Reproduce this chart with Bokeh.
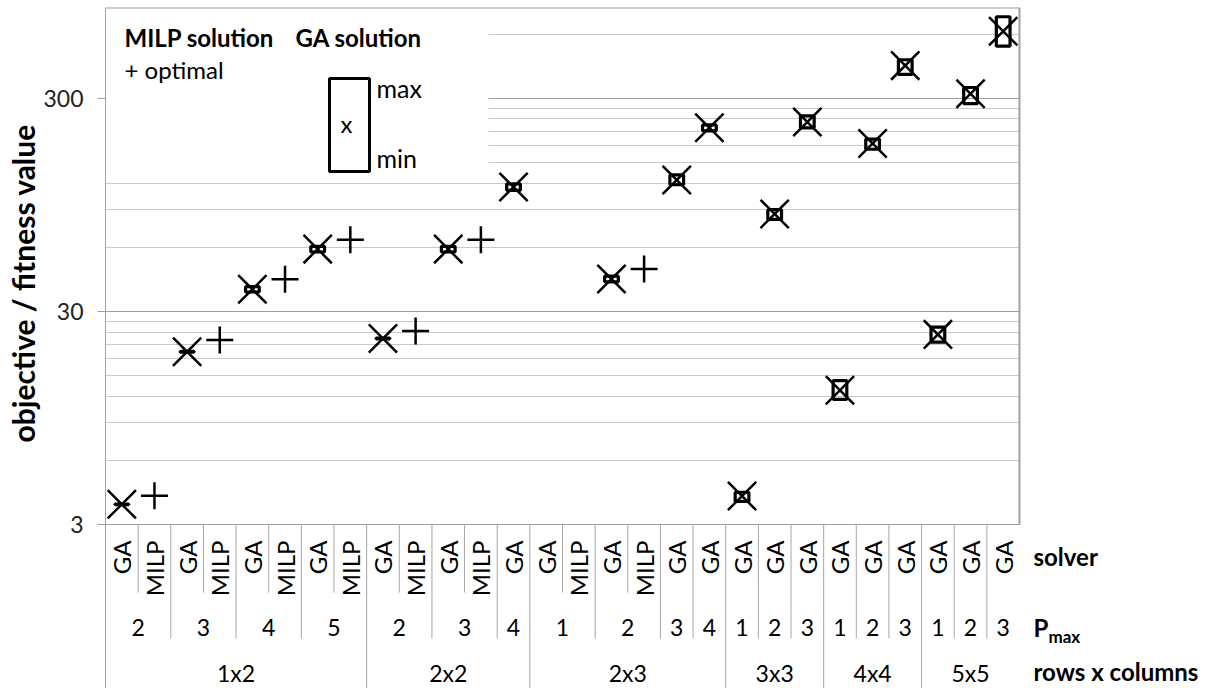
import math
from bokeh.plotting import figure
from bokeh.models import Range1d, FixedTicker, NumeralTickFormatter, ColumnDataSource, Title
from bokeh.core.properties import value
from bokeh.embed import file_html
from bokeh.resources import INLINE

# ---------------- data ----------------
rows_groups = ["1x2"] * 8 + ["2x2"] * 5 + ["2x3"] * 6 + ["3x3"] * 3 + ["4x4"] * 3 + ["5x5"] * 3
pmax = ["2", "2", "3", "3", "4", "4", "5", "5",
        "2", "2", "3", "3", "4",
        "1", "1", "2", "2", "3", "4",
        "1", "2", "3",
        "1", "2", "3",
        "1", "2", "3"]
solver = ["GA", "MILP", "GA", "MILP", "GA", "MILP", "GA", "MILP",
          "GA", "MILP", "GA", "MILP", "GA",
          "GA", "MILP", "GA", "MILP", "GA", "GA",
          "GA", "GA", "GA",
          "GA", "GA", "GA",
          "GA", "GA", "GA"]
# GA fitness (x marker) and min/max over runs (box)
ga_value = [3.73, None, 19.4, None, 38.1, None, 58.8, None,
            22.4, None, 58.8, None, 115,
            None, None, 42.6, None, 124, 218,
            4.08, 86, 232,
            12.8, 184, 427,
            23.4, 315, 619]
ga_min = [3.72, None, 19.3, None, 37.0, None, 57.0, None,
          22.3, None, 57.0, None, 111,
          None, None, 41.3, None, 118, 211,
          3.85, 81, 218,
          11.6, 173, 388,
          21.5, 283, 527]
ga_max = [3.74, None, 19.5, None, 39.2, None, 60.6, None,
          22.5, None, 60.6, None, 119,
          None, None, 43.9, None, 131, 225,
          4.25, 90, 248,
          14.2, 193, 455,
          25.3, 337, 724]
# MILP optimal objective (+ marker)
milp_opt = [None, 4.09, None, 22.0, None, 42.5, None, 65.1,
            None, 24.3, None, 65.0, None,
            None, None, None, 47.4, None, None,
            None, None, None,
            None, None, None,
            None, None, None]
y_major = [3, 30, 300]

# ---------------- layout constants ----------------
FONT = "Lato"
Y_MIN, Y_MAX = 3, 800
N = len(solver)
OX, OY = 0, 0                    # page offset of the canvas
PLOT_L, PLOT_T, PLOT_B = 105, 7, 524   # page px of the chart area
PLOT_W = 914
FRAME_R = 1205
FRAME_B = 688
GRID_MAJOR = "#a0a0a0"
GRID_MINOR = "#c8c8c8"
SEP = "#a6a6a6"

COLW = PLOT_W / N
PPD = (PLOT_B - PLOT_T) / math.log10(Y_MAX / Y_MIN)
Y_LO = Y_MIN * 10 ** (-(FRAME_B - PLOT_B) / PPD)
XMAX = (FRAME_R - PLOT_L) / COLW


def dy(py):
    """page pixel (from top) -> data value"""
    return Y_MAX * 10 ** (-(py - PLOT_T) / PPD)


def dx(px):
    """page pixel (from left) -> column units"""
    return (px - PLOT_L) / COLW


y_minor = [3 * k * 10 ** d for d in range(3) for k in range(2, 10) if 3 * k * 10 ** d <= Y_MAX]

p = figure(frame_width=FRAME_R - PLOT_L, frame_height=FRAME_B - PLOT_T,
           x_range=Range1d(0, XMAX), y_range=Range1d(Y_LO, Y_MAX),
           y_axis_type="log", x_axis_location=None,
           min_border_left=PLOT_L - OX, min_border_right=0,
           min_border_top=PLOT_T - OY, min_border_bottom=0,
           toolbar_location=None, output_backend="svg",
           background_fill_color="white", border_fill_color="white",
           outline_line_color=None)

p.yaxis.ticker = FixedTicker(ticks=y_major, minor_ticks=y_minor)
p.yaxis.formatter = NumeralTickFormatter(format="0")
p.yaxis.axis_line_color = GRID_MAJOR
p.yaxis.major_tick_line_color = GRID_MAJOR
p.yaxis.major_tick_out = 8
p.yaxis.major_tick_in = 0
p.yaxis.minor_tick_line_color = None
p.yaxis.major_label_text_font = FONT
p.yaxis.major_label_text_font_size = "23px"
p.yaxis.major_label_text_color = "#222222"
p.yaxis.major_label_standoff = 14

p.add_layout(Title(text="objective / fitness value", align="left", offset=246,
                   text_font=FONT, text_font_size="30px", text_font_style="bold",
                   text_color="black", standoff=0), "left")

p.xgrid.visible = False
p.ygrid.grid_line_color = GRID_MAJOR
p.ygrid.grid_line_width = 1.2
p.ygrid.minor_grid_line_color = GRID_MINOR
p.ygrid.minor_grid_line_width = 1.2

# hide gridlines outside the chart area (right-hand titles) and behind legend
p.quad(left=[N], right=[XMAX], top=[Y_MAX], bottom=[Y_LO], fill_color="white", line_color=None)
p.quad(left=[0], right=[dx(488)], top=[Y_MAX], bottom=[dy(174)],
       fill_color="white", line_color=None)
# chart border (top, right)
p.segment(x0=[0, N], y0=[Y_MAX, Y_MIN], x1=[N, N], y1=[Y_MAX, Y_MAX],
          line_color=GRID_MAJOR, line_width=2)

# GA min/max boxes + fitness markers
keep = [i for i in range(N) if ga_value[i] is not None]
src_ga = ColumnDataSource(dict(
    x=[i + 0.5 for i in keep],
    v=[ga_value[i] for i in keep],
    lo=[ga_min[i] for i in keep],
    hi=[ga_max[i] for i in keep],
))
p.vbar(x="x", width=0.42, top="hi", bottom="lo", source=src_ga,
       fill_color=None, line_color="black", line_width=3.2)
p.scatter(x="x", y="v", source=src_ga, marker="x", size=40,
          line_color="black", line_width=2.5)

keep_m = [i for i in range(N) if milp_opt[i] is not None]
src_milp = ColumnDataSource(dict(
    x=[i + 0.5 for i in keep_m],
    v=[milp_opt[i] for i in keep_m],
))
p.scatter(x="x", y="v", source=src_milp, marker="cross", size=27,
          line_color="black", line_width=2.5)

# legend
TXT = dict(text_font=value(FONT), text_baseline="middle", text_color="black")
p.text(x=[dx(124), dx(295)], y=[dy(37), dy(37)], text=["MILP solution", "GA solution"],
       text_font_size="24px", text_font_style="bold", text_align="left", **TXT)
p.text(x=[dx(124)], y=[dy(69)], text=["+ optimal"], text_font_size="24px",
       text_align="left", **TXT)
p.quad(left=[dx(329)], right=[dx(369)], top=[dy(78)], bottom=[dy(171)],
       fill_color="white", line_color="black", line_width=3)
p.text(x=[dx(346)], y=[dy(123)], text=["x"], text_font_size="24px", text_align="center", **TXT)
p.text(x=[dx(376), dx(376)], y=[dy(87), dy(157)], text=["max", "min"],
       text_font_size="25px", text_align="left", **TXT)

# ---------------- category table below the chart ----------------
def ty(px_below):
    return Y_MIN * 10 ** (-px_below / PPD)


FULL = FRAME_B - PLOT_B
sx, sy1 = [], []
for i in range(1, N):
    if rows_groups[i] != rows_groups[i - 1]:
        length = FULL
    elif pmax[i] != pmax[i - 1]:
        length = 114
    else:
        length = 68
    sx.append(i)
    sy1.append(ty(length))
p.segment(x0=sx, y0=[Y_MIN] * len(sx), x1=sx, y1=sy1, line_color=SEP, line_width=1)

p.text(x=[i + 0.5 for i in range(N)], y=[ty(16)] * N, text=solver, angle=math.pi / 2,
       text_font_size="24px", text_align="right", **TXT)


def groups(keys):
    out = []
    start = 0
    for i in range(1, N + 1):
        if i == N or keys[i] != keys[start]:
            out.append((start, i, keys[start]))
            start = i
    return out


pg = groups([(rows_groups[i], pmax[i]) for i in range(N)])
p.text(x=[(a + b) / 2 for a, b, k in pg], y=[ty(103)] * len(pg), text=[k[1] for a, b, k in pg],
       text_font_size="23px", text_align="center", **TXT)
rg = groups(rows_groups)
p.text(x=[(a + b) / 2 for a, b, k in rg], y=[ty(148)] * len(rg), text=[k for a, b, k in rg],
       text_font_size="23px", text_align="center", **TXT)

RX = dx(1033)
p.text(x=[RX, RX], y=[ty(32), ty(147)], text=["solver", "rows x columns"],
       text_font_size="24px", text_font_style="bold", text_align="left", **TXT)
p.text(x=[RX], y=[ty(103)], text=["P"], text_font_size="24px", text_font_style="bold",
       text_align="left", **TXT)
p.text(x=[dx(1048)], y=[ty(112)], text=["max"], text_font_size="17px", text_font_style="bold",
       text_align="left", **TXT)

open("out.html", "w").write(file_html(p, INLINE))
